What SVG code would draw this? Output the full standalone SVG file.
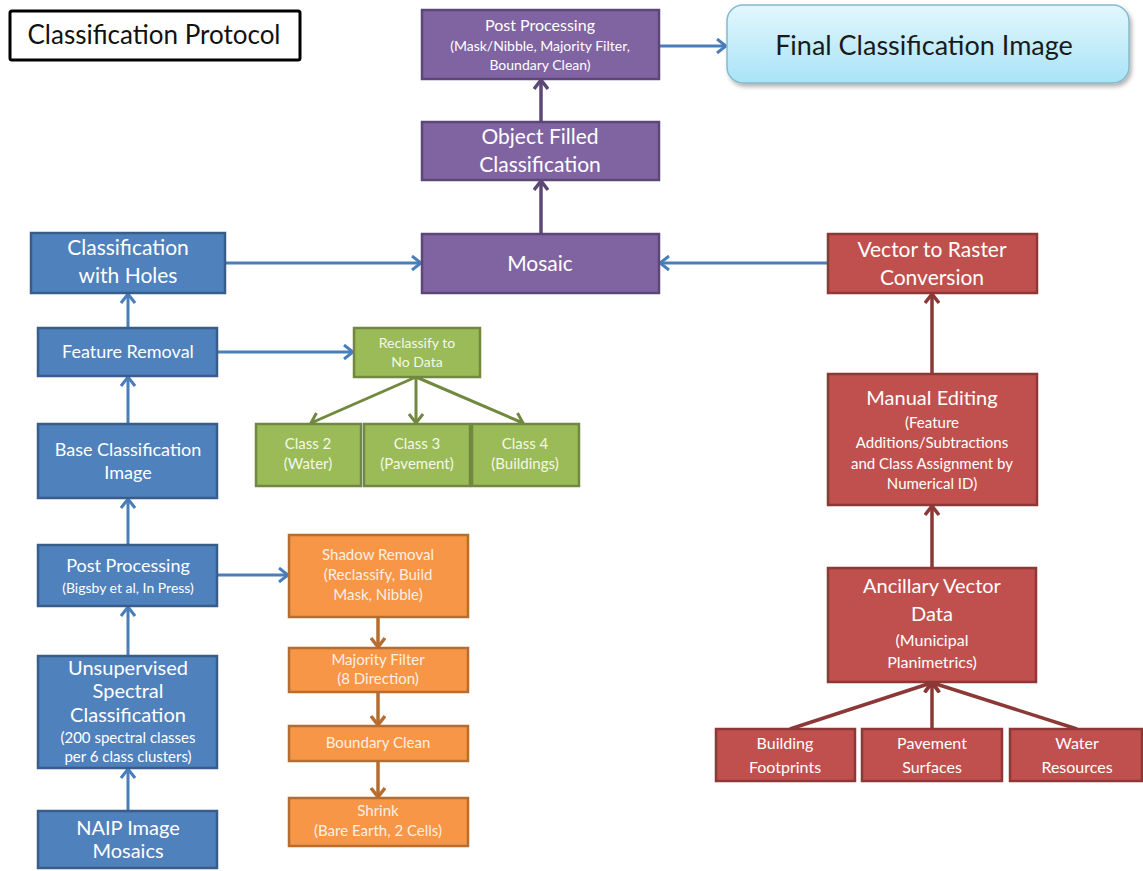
<svg xmlns="http://www.w3.org/2000/svg" width="1143" height="871" viewBox="0 0 1143 871">
<style>
text{font-family:Lato,"Open Sans","Liberation Sans",sans-serif;text-anchor:middle;fill:#ffffff}
.blue{fill:#4F81BD;stroke:#385D8A;stroke-width:2.5}
.purple{fill:#8064A2;stroke:#5C4776;stroke-width:2.5}
.red{fill:#C0504D;stroke:#8C3836;stroke-width:2.5}
.green{fill:#9BBB59;stroke:#71893F;stroke-width:2.5}
.orange{fill:#F79646;stroke:#B66D31;stroke-width:2.5}
.cb{stroke:#4A7EBB;stroke-width:3;fill:none;marker-end:url(#ab)}
.cp{stroke:#5C4776;stroke-width:3.5;fill:none;marker-end:url(#ap)}
.cr{stroke:#8C3836;stroke-width:3.5;fill:none;marker-end:url(#ar)}
.cg{stroke:#71893F;stroke-width:3;fill:none;marker-end:url(#ag)}
.co{stroke:#B66D31;stroke-width:3.5;fill:none;marker-end:url(#ao)}
.t21{font-size:21px}.t20{font-size:20px}.t18{font-size:18px}.t16{font-size:16px}.t15{font-size:15px}.t14{font-size:14px}
.lo{fill:#fdf0e4}.lg{fill:#f3f8e6}
</style>
<defs>
<marker id="ab" markerUnits="userSpaceOnUse" viewBox="0 0 16 16" markerWidth="16" markerHeight="16" refX="14" refY="8" orient="auto"><path d="M5,1 L14,8 L5,15" fill="none" stroke="#4A7EBB" stroke-width="3"/></marker>
<marker id="ap" markerUnits="userSpaceOnUse" viewBox="0 0 16 16" markerWidth="16" markerHeight="16" refX="14" refY="8" orient="auto"><path d="M5,1 L14,8 L5,15" fill="none" stroke="#5C4776" stroke-width="3.5"/></marker>
<marker id="ar" markerUnits="userSpaceOnUse" viewBox="0 0 16 16" markerWidth="16" markerHeight="16" refX="14" refY="8" orient="auto"><path d="M5,1 L14,8 L5,15" fill="none" stroke="#8C3836" stroke-width="3.5"/></marker>
<marker id="ag" markerUnits="userSpaceOnUse" viewBox="0 0 16 16" markerWidth="16" markerHeight="16" refX="14" refY="8" orient="auto"><path d="M5,1 L14,8 L5,15" fill="none" stroke="#71893F" stroke-width="3"/></marker>
<marker id="ao" markerUnits="userSpaceOnUse" viewBox="0 0 16 16" markerWidth="16" markerHeight="16" refX="14" refY="8" orient="auto"><path d="M5,1 L14,8 L5,15" fill="none" stroke="#B66D31" stroke-width="3.5"/></marker>
<linearGradient id="fg" x1="0" y1="0" x2="0" y2="1"><stop offset="0" stop-color="#e2f7fd"/><stop offset="1" stop-color="#a9e3f7"/></linearGradient>
<filter id="sh" x="-5%" y="-10%" width="115%" height="130%"><feDropShadow dx="2" dy="3" stdDeviation="2" flood-color="#000" flood-opacity="0.3"/></filter>
</defs>
<rect width="1143" height="871" fill="#ffffff"/>

<g id="connectors">
<line class="cb" x1="128" y1="811" x2="128" y2="769"/>
<line class="cb" x1="128" y1="656" x2="128" y2="607"/>
<line class="cb" x1="128" y1="545" x2="128" y2="499"/>
<line class="cb" x1="128" y1="424" x2="128" y2="377"/>
<line class="cb" x1="128" y1="328" x2="128" y2="294"/>
<line class="cb" x1="225" y1="263" x2="421" y2="263"/>
<line class="cb" x1="217" y1="352" x2="353" y2="352"/>
<line class="cb" x1="217" y1="575" x2="288" y2="575"/>
<line class="cb" x1="828" y1="263" x2="660" y2="263"/>
<line class="cb" x1="659" y1="46" x2="726" y2="46"/>
<line class="cp" x1="541" y1="234" x2="541" y2="181"/>
<line class="cp" x1="541" y1="122" x2="541" y2="80"/>
<line class="cr" x1="932" y1="374" x2="932" y2="294"/>
<line class="cr" x1="932" y1="568" x2="932" y2="506"/>
<line class="cr" x1="790" y1="729" x2="931" y2="683"/>
<line class="cr" x1="932" y1="729" x2="932" y2="683"/>
<line class="cr" x1="1077" y1="729" x2="933" y2="683"/>
<line class="cg" x1="416" y1="377" x2="311" y2="423"/>
<line class="cg" x1="416" y1="377" x2="416" y2="423"/>
<line class="cg" x1="416" y1="377" x2="523" y2="423"/>
<line class="co" x1="378" y1="617" x2="378" y2="647"/>
<line class="co" x1="378" y1="692" x2="378" y2="725"/>
<line class="co" x1="378" y1="761" x2="378" y2="797"/>
</g>

<g id="title">
<rect x="10" y="11" width="290" height="49" fill="#fff" stroke="#000" stroke-width="3" rx="2"/>
<text x="154" y="44" style="font-size:26px;fill:#111">Classification Protocol</text>
</g>

<g id="post-processing-purple">
<rect class="purple" x="422" y="10" width="237" height="69"/>
<text class="t16" x="540" y="31">Post Processing</text>
<text class="t14" x="540" y="51">(Mask/Nibble, Majority Filter,</text>
<text class="t14" x="540" y="70">Boundary Clean)</text>
</g>

<g id="final">
<rect x="727" y="5" width="402" height="78" rx="16" fill="url(#fg)" stroke="#86b9cc" stroke-width="1.5" filter="url(#sh)"/>
<text x="924" y="55" style="font-size:27px;fill:#1a1a1a">Final Classification Image</text>
</g>

<g id="object-filled">
<rect class="purple" x="422" y="122" width="237" height="58"/>
<text class="t21" x="540" y="144">Object Filled</text>
<text class="t21" x="540" y="172">Classification</text>
</g>

<g id="mosaic">
<rect class="purple" x="422" y="234" width="237" height="59"/>
<text class="t21" x="540" y="271">Mosaic</text>
</g>

<g id="classification-holes">
<rect class="blue" x="31" y="233" width="194" height="60"/>
<text class="t21" x="128" y="255">Classification</text>
<text class="t21" x="128" y="283">with Holes</text>
</g>

<g id="feature-removal">
<rect class="blue" x="38" y="328" width="179" height="48"/>
<text class="t18" x="128" y="358">Feature Removal</text>
</g>

<g id="reclassify">
<rect class="green" x="354" y="328" width="126" height="49"/>
<text class="t14 lg" x="417" y="348">Reclassify to</text>
<text class="t14 lg" x="417" y="367">No Data</text>
</g>

<g id="class2">
<rect class="green" x="256" y="424" width="105" height="62"/>
<text class="t15 lg" x="308" y="449">Class 2</text>
<text class="t15 lg" x="308" y="469">(Water)</text>
</g>
<g id="class3">
<rect class="green" x="364" y="424" width="106" height="62"/>
<text class="t15 lg" x="417" y="449">Class 3</text>
<text class="t15 lg" x="417" y="469">(Pavement)</text>
</g>
<g id="class4">
<rect class="green" x="472" y="424" width="107" height="62"/>
<text class="t15 lg" x="525" y="449">Class 4</text>
<text class="t15 lg" x="525" y="469">(Buildings)</text>
</g>

<g id="base-classification">
<rect class="blue" x="38" y="424" width="179" height="74"/>
<text class="t18" x="128" y="456">Base Classification</text>
<text class="t18" x="128" y="479">Image</text>
</g>

<g id="post-processing-blue">
<rect class="blue" x="38" y="545" width="179" height="61"/>
<text class="t18" x="128" y="572">Post Processing</text>
<text class="t14" x="128" y="593">(Bigsby et al, In Press)</text>
</g>

<g id="unsupervised">
<rect class="blue" x="38" y="656" width="179" height="112"/>
<text class="t20" x="128" y="675">Unsupervised</text>
<text class="t20" x="128" y="698">Spectral</text>
<text class="t20" x="128" y="722">Classification</text>
<text class="t15" x="128" y="743">(200 spectral classes</text>
<text class="t15" x="128" y="762">per 6 class clusters)</text>
</g>

<g id="naip">
<rect class="blue" x="38" y="811" width="179" height="57"/>
<text class="t20" x="128" y="835">NAIP Image</text>
<text class="t20" x="128" y="858">Mosaics</text>
</g>

<g id="shadow-removal">
<rect class="orange" x="289" y="535" width="179" height="82"/>
<text class="t15 lo" x="378" y="560">Shadow Removal</text>
<text class="t15 lo" x="378" y="580">(Reclassify, Build</text>
<text class="t15 lo" x="378" y="600">Mask, Nibble)</text>
</g>

<g id="majority-filter">
<rect class="orange" x="289" y="648" width="179" height="44"/>
<text class="t15 lo" x="378" y="665">Majority Filter</text>
<text class="t15 lo" x="378" y="684">(8 Direction)</text>
</g>

<g id="boundary-clean">
<rect class="orange" x="289" y="726" width="179" height="35"/>
<text class="t15 lo" x="378" y="748">Boundary Clean</text>
</g>

<g id="shrink">
<rect class="orange" x="289" y="798" width="179" height="48"/>
<text class="t15 lo" x="378" y="816">Shrink</text>
<text class="t15 lo" x="378" y="836">(Bare Earth, 2 Cells)</text>
</g>

<g id="vector-to-raster">
<rect class="red" x="828" y="234" width="209" height="59"/>
<text class="t21" x="932" y="257">Vector to Raster</text>
<text class="t21" x="932" y="285">Conversion</text>
</g>

<g id="manual-editing">
<rect class="red" x="828" y="374" width="209" height="131"/>
<text class="t20" x="932" y="405">Manual Editing</text>
<text class="t15" x="932" y="428">(Feature</text>
<text class="t15" x="932" y="448">Additions/Subtractions</text>
<text class="t15" x="932" y="469">and Class  Assignment  by</text>
<text class="t15" x="932" y="489">Numerical ID)</text>
</g>

<g id="ancillary">
<rect class="red" x="828" y="568" width="208" height="114"/>
<text class="t20" x="932" y="593">Ancillary Vector</text>
<text class="t20" x="932" y="621">Data</text>
<text class="t16" x="932" y="646">(Municipal</text>
<text class="t16" x="932" y="668">Planimetrics)</text>
</g>

<g id="building-footprints">
<rect class="red" x="716" y="729" width="139" height="52"/>
<text class="t16" x="785" y="749">Building</text>
<text class="t16" x="785" y="773">Footprints</text>
</g>
<g id="pavement-surfaces">
<rect class="red" x="862" y="729" width="140" height="52"/>
<text class="t16" x="932" y="749">Pavement</text>
<text class="t16" x="932" y="773">Surfaces</text>
</g>
<g id="water-resources">
<rect class="red" x="1010" y="729" width="132" height="52"/>
<text class="t16" x="1077" y="749">Water</text>
<text class="t16" x="1077" y="773">Resources</text>
</g>
</svg>
